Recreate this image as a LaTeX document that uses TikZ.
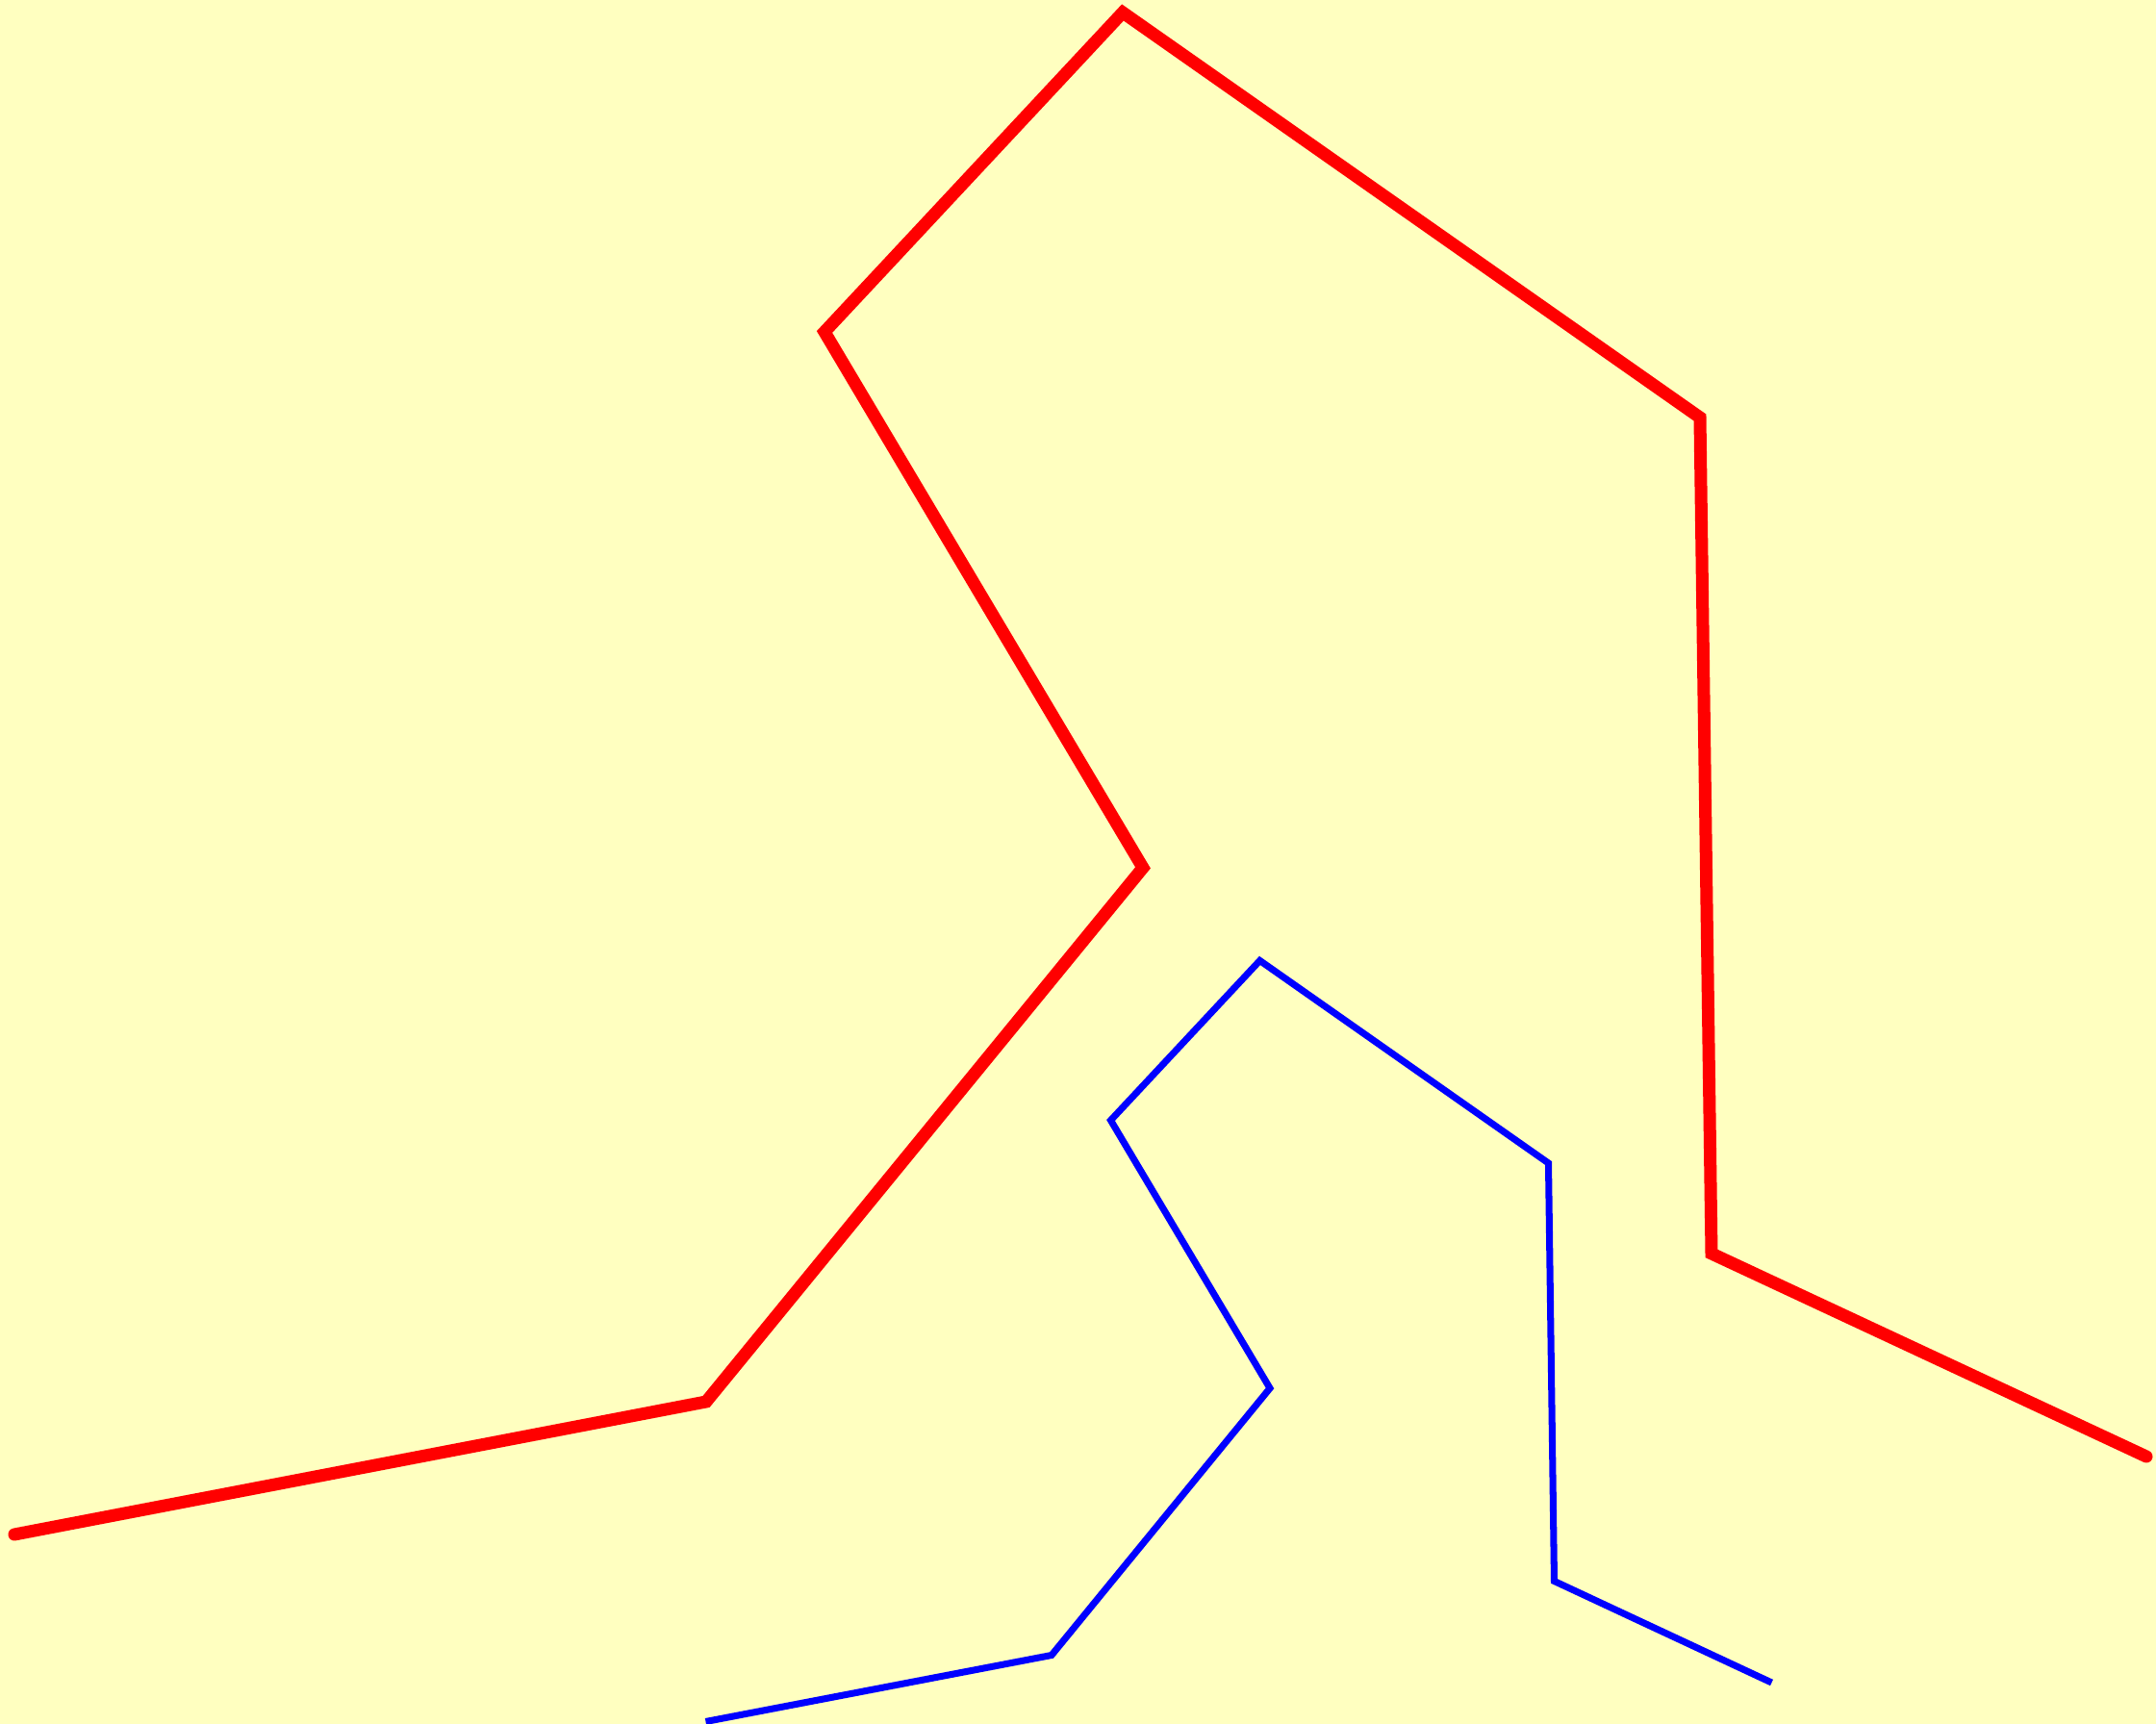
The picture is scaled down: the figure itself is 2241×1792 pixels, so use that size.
\documentclass[tikz,border=0pt]{standalone}
\definecolor{bgyellow}{RGB}{255,255,192}
\tikzset{
  redline/.style={draw=red, line width=3.7pt, line cap=round, line join=miter},
  blueline/.style={draw=blue, line width=2pt, line cap=butt, line join=miter}
}
\begin{document}
\begin{tikzpicture}[x=0.01cm, y=-0.01cm]
\fill[bgyellow] (0,0) rectangle (2241,1792);
\useasboundingbox (0,0) rectangle (2241,1792);
\draw[redline] (15,1595) -- (734,1457) -- (1188,902) -- (857,345) -- (1167,13)
  -- (1767,434) -- (1779,1303) -- (2231,1514);
\begin{scope}[shift={(726,992)}, scale=0.5]
\draw[blueline] (15,1595) -- (734,1457) -- (1188,902) -- (857,345) -- (1167,13)
  -- (1767,434) -- (1779,1303) -- (2231,1514);
\end{scope}
\end{tikzpicture}
\end{document}
